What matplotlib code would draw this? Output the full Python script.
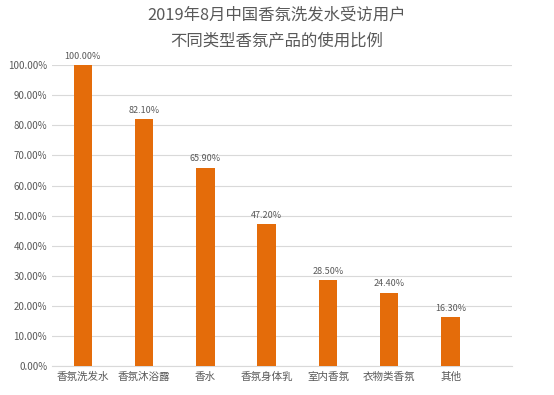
import numpy as np
import matplotlib.pyplot as plt
from matplotlib.ticker import FuncFormatter

plt.rcParams['font.family'] = ['Noto Sans CJK SC', 'DejaVu Sans']

categories = ["香氛洗发水", "香氛沐浴露", "香水", "香氛身体乳", "室内香氛", "衣物类香氛", "其他"]
values = [100.0, 82.1, 65.9, 47.2, 28.5, 24.4, 16.3]

bar_color = "#E46C0A"
text_color = "#595959"

fig = plt.figure(figsize=(5.54, 3.95), dpi=100)
ax = fig.add_axes([0.094, 0.073, 0.83, 0.762])

x = np.arange(len(categories))
ax.bar(x, values, width=0.3, color=bar_color, zorder=3)
for xi, v in zip(x, values):
    ax.text(xi, v + 1.5, f"{v:.2f}%", ha="center", va="bottom",
            fontsize=6.5, color=text_color)

ax.set_xlim(-0.5, 7.0)
ax.set_ylim(0, 100)
ax.set_yticks(np.arange(0, 101, 10))
ax.yaxis.set_major_formatter(FuncFormatter(lambda v, p: f"{v:.2f}%"))
ax.set_xticks(x)
ax.set_xticklabels(categories)
ax.tick_params(axis="both", length=0, labelsize=7, colors=text_color)
ax.tick_params(axis="x", labelsize=7.6, pad=4)
ax.grid(axis="y", color="#D9D9D9", linewidth=0.8, zorder=0)
for s in ["top", "right", "left"]:
    ax.spines[s].set_visible(False)
ax.spines["bottom"].set_color("#D9D9D9")

fig.text(0.5, 0.962, "2019年8月中国香氛洗发水受访用户", ha="center", va="center",
         fontsize=11.8, color=text_color)
fig.text(0.5, 0.897, "不同类型香氛产品的使用比例", ha="center", va="center",
         fontsize=11.8, color=text_color)

fig.savefig("out.png", dpi=100)
